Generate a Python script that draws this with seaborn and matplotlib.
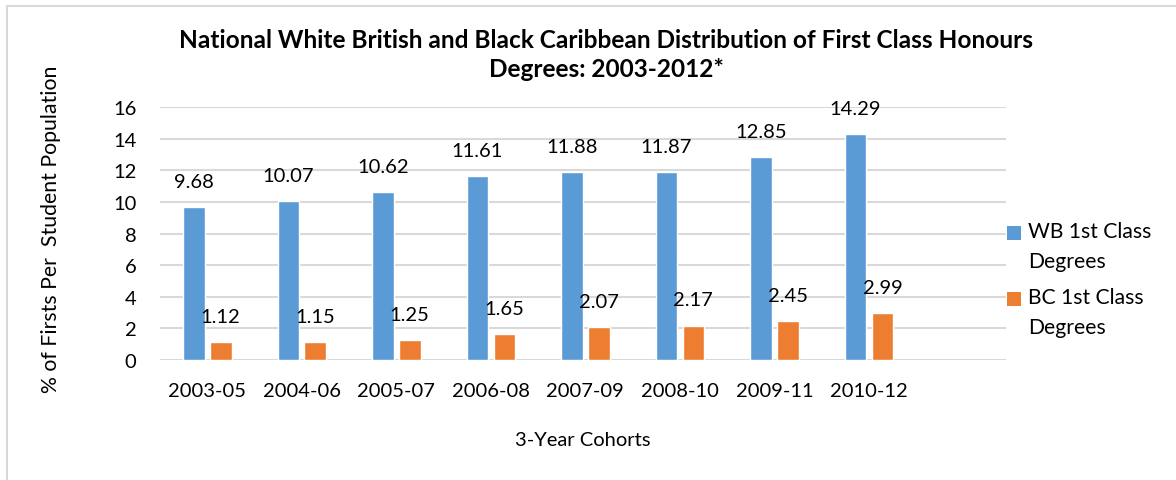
import matplotlib
matplotlib.use("Agg")
import matplotlib.pyplot as plt
import seaborn as sns
import pandas as pd
from matplotlib.lines import Line2D
from matplotlib.patches import Rectangle

cohorts = ["2003-05", "2004-06", "2005-07", "2006-08", "2007-09", "2008-10", "2009-11", "2010-12"]
wb_values = [9.68, 10.07, 10.62, 11.61, 11.88, 11.87, 12.85, 14.29]
bc_values = [1.12, 1.15, 1.25, 1.65, 2.07, 2.17, 2.45, 2.99]
series_names = ["WB 1st Class Degrees", "BC 1st Class Degrees"]
legend_labels = ["WB 1st Class\nDegrees", "BC 1st Class\nDegrees"]
y_ticks = [0, 2, 4, 6, 8, 10, 12, 14, 16]
title = "National White British and Black Caribbean Distribution of First Class Honours\nDegrees: 2003-2012*"
x_label = "3-Year Cohorts"
y_label = "% of Firsts Per  Student Population"

BLUE = "#5B9BD5"
ORANGE = "#ED7D31"
GRID = "#D9D9D9"
FS = 14.5

sns.set_theme(style="white")
plt.rcParams["font.family"] = ["Lato", "DejaVu Sans"]

df = pd.DataFrame({
    "cohort": cohorts * 2,
    "value": wb_values + bc_values,
    "series": [series_names[0]] * len(cohorts) + [series_names[1]] * len(cohorts),
})

W, H = 1176, 481
fig = plt.figure(figsize=(W / 100, H / 100), dpi=100)
ax = fig.add_axes([160 / W, 1 - 361 / H, (1006 - 160) / W, (361 - 108) / H])

sns.barplot(data=df, x="cohort", y="value", hue="series", palette=[BLUE, ORANGE],
            width=0.57, gap=0.2, ax=ax, legend=False, saturation=1, errorbar=None)

ax.set_xlim(-0.5, 8.45)
ax.set_ylim(0, 16)
ax.set_yticks(y_ticks)
ax.set_yticklabels([str(t) for t in y_ticks])
ax.yaxis.grid(True, color=GRID, lw=1.5)
ax.set_axisbelow(True)
for s in ax.spines.values():
    s.set_visible(False)
ax.tick_params(axis="both", length=0, labelsize=FS, colors="black")
ax.tick_params(axis="y", pad=17)
ax.tick_params(axis="x", pad=16)
ax.set_xlabel(x_label, fontsize=FS, labelpad=23, color="black")
ax.set_ylabel("")
fig.text(51 / W, 1 - 229 / H, y_label, rotation=90, ha="center", va="center", fontsize=15.3, color="black")

for container, vals in zip(ax.containers, [wb_values, bc_values]):
    for bar, v in zip(container, vals):
        ax.annotate(f"{v:.2f}", (bar.get_x() + bar.get_width() / 2, bar.get_height()),
                    xytext=(0, 18.5), textcoords="offset points", ha="center", va="center",
                    fontsize=FS, color="black")

fig.text(606 / W, 1 - 55 / H, title, ha="center", va="center", fontsize=17.6, fontweight="bold",
         color="black", linespacing=1.3)

# legend (manual, handle aligned with first text line)
for i, (lab, col) in enumerate(zip(legend_labels, [BLUE, ORANGE])):
    ytop = 227 + i * 66
    fig.add_artist(Rectangle((1007 / W, 1 - (ytop + 14) / H), 14 / W, 14 / H,
                             transform=fig.transFigure, color=col, lw=0))
    fig.text(1028 / W, 1 - (ytop - 5) / H, lab, ha="left", va="top", fontsize=15.2,
             color="black", linespacing=1.6, transform=fig.transFigure)

# chart border (left and top visible)
fig.add_artist(Line2D([7 / W, 7 / W], [0, 1 - 7 / H], transform=fig.transFigure, color=GRID, lw=1.5))
fig.add_artist(Line2D([7 / W, 1], [1 - 7 / H, 1 - 7 / H], transform=fig.transFigure, color=GRID, lw=1.5))

fig.savefig("out.png", dpi=100, facecolor="white")
